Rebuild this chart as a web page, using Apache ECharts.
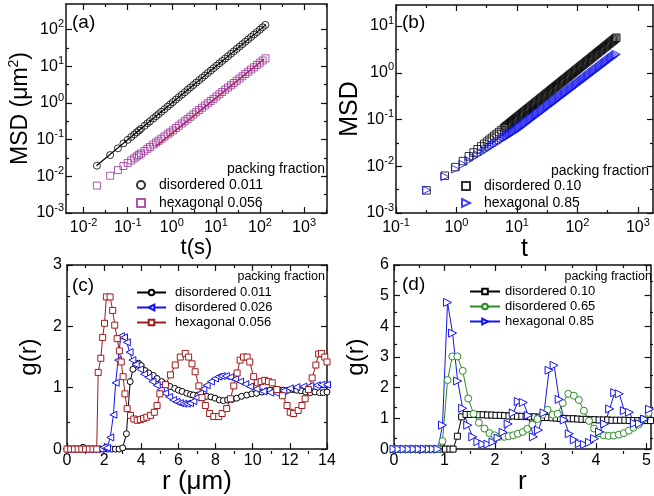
<!DOCTYPE html>
<html><head><meta charset="utf-8">
<script src="https://cdn.jsdelivr.net/npm/echarts@6/dist/echarts.min.js"></script>
<style>html,body{margin:0;padding:0;background:#fff}#c{width:654px;height:496px}</style>
</head><body><div id="c"></div>
<script>
// ---------- DATA ----------
// (a) MSD vs t(s)
const aTime = [0.02,0.04,0.06,0.08,0.1,0.12,0.14,0.16,0.18,0.2,0.24,0.28,0.32,0.38,0.44,0.5,0.58,0.68,0.8,0.92,1.06,1.24,1.44,1.68,1.96,2.28,2.64,3.08,3.58,4.16,4.84,5.62,6.54,7.6,8.84,10.3,12,13.9,16.2,18.8,21.9,25.4,29.6,34.4,40,46.5,54,62.8,73,85,98.8,115,133];
const aDisMSD = [0.0195,0.038,0.058,0.079,0.099,0.118,0.138,0.159,0.178,0.198,0.238,0.279,0.318,0.379,0.437,0.498,0.578,0.676,0.797,0.918,1.06,1.24,1.44,1.68,1.96,2.29,2.65,3.09,3.6,4.18,4.86,5.65,6.58,7.64,8.9,10.4,12.1,14.0,16.3,18.9,22.0,25.6,29.8,34.6,40.3,46.8,54.4,63.2,73.5,85.6,99.5,116,135];
const aHexMSD = [0.0056,0.0104,0.0148,0.0191,0.0232,0.0271,0.031,0.0348,0.0385,0.0422,0.0493,0.0564,0.0633,0.0736,0.0834,0.0933,0.106,0.122,0.14,0.158,0.179,0.208,0.239,0.276,0.319,0.367,0.422,0.487,0.561,0.644,0.743,0.855,0.986,1.135,1.30,1.51,1.74,1.99,2.31,2.64,3.05,3.51,4.05,4.67,5.36,6.17,7.10,8.18,9.42,10.9,12.5,14.4,16.5];
const aFitDisT = [0.0195, 137];
const aFitDisMSD = [0.0195, 137];
const aFitHexT = [0.43, 125];
const aFitHexMSD = [0.065, 15.8];
// (b) MSD vs t
const bTime = [0.32,0.64,0.96,1.28,1.6,1.92,2.24,2.56,2.88,
  3.2,3.51,3.85,4.22,4.62,5.07,5.56,6.1,6.38,6.68,7.0,7.33,7.67,8.04,8.41,8.81,9.23,9.66,
  10.1,10.6,11.1,11.6,12.2,12.7,13.3,14.0,14.6,15.3,16.0,16.8,17.6,18.4,19.3,20.2,21.1,22.1,23.2,24.3,25.4,26.6,27.9,29.2,30.5,32.0,33.5,35.1,36.7,38.5,40.3,42.2,44.2,46.2,48.4,50.7,53.1,55.6,58.2,61.0,63.8,66.8,70.0,73.3,76.7,80.4,84.1,88.1,92.3,96.6,
  101,106,111,116,122,127,133,140,146,153,160,168,176,184,193,202,211,221,232,243,254,266,279,292,305,320,335,351,367,385,403,422,440];
const bDisMSD = [0.00305,0.00628,0.00959,0.0129,0.0163,0.0197,0.0231,0.0266,0.0301,
  0.0335,0.0369,0.0406,0.0447,0.0491,0.0541,0.0595,0.0656,0.0687,0.0721,0.0757,0.0794,0.0832,0.0874,0.0916,0.0961,0.1009,0.1058,
  0.1108,0.1165,0.1222,0.128,0.1348,0.1406,0.1475,0.1555,0.1625,0.1706,0.1787,0.188,0.1973,0.2066,0.2171,0.2277,0.2382,0.25,0.2629,0.2758,0.289,0.3032,0.3186,0.334,0.3495,0.3674,0.3853,0.4044,0.4239,0.4454,0.4671,0.49,0.514,0.538,0.565,0.593,0.622,0.653,0.684,0.719,0.753,0.79,0.83,0.87,0.913,0.958,1.004,1.054,1.107,1.16,
  1.215,1.277,1.341,1.404,1.479,1.542,1.619,1.707,1.783,1.873,1.962,2.063,2.167,2.269,2.384,2.501,2.616,2.745,2.888,3.03,3.17,3.33,3.50,3.67,3.84,4.04,4.23,4.45,4.66,4.90,5.13,5.39,5.63];
const bHexMSD = [0.0031,0.006,0.0087,0.011,0.0133,0.0154,0.0175,0.0195,0.0215,
  0.0234,0.0253,0.0273,0.0294,0.0317,0.0342,0.0369,0.0398,0.0413,0.0429,0.0446,0.0463,0.0481,0.0499,0.0519,0.0539,0.0559,0.0581,
  0.0606,0.0634,0.0663,0.0694,0.0726,0.076,0.0795,0.0832,0.0871,0.0911,0.0953,0.0998,0.1044,0.1092,0.1143,0.1196,0.1252,0.131,0.1371,0.1434,0.1501,0.157,0.1643,0.1719,0.1799,0.1883,0.197,0.2061,0.2157,0.2257,0.2362,0.2471,0.2586,0.2706,0.2832,0.2963,0.31,0.3244,0.3395,0.3552,0.3717,0.389,0.407,0.4259,0.4457,0.4664,0.488,0.5107,0.5344,0.5592,
  0.5851,0.6123,0.6407,0.6704,0.7015,0.7341,0.7682,0.8038,0.8411,0.8802,0.921,0.9638,1.0085,1.0553,1.1043,1.1555,1.2091,1.2653,1.324,1.3855,1.4498,1.517,1.5875,1.6611,1.7382,1.8189,1.9033,1.9916,2.0841,2.1808,2.282,2.388,2.49];
// (c) g(r) vs r (um)
const cR011 = [0,0.2,0.4,0.6,0.86,1.0,1.2,1.4,1.6,1.8,2.0,2.2,2.4,2.6,2.8,3.0,3.2,3.4,3.55,3.7,3.85,4.0,4.2,4.4,4.65,4.85,5.1,5.3,5.55,5.8,6.0,6.2,6.45,6.65,6.8,7.05,7.3,7.52,7.75,7.97,8.2,8.42,8.65,8.9,9.14,9.4,9.68,9.95,10.21,10.5,10.75,10.93,11.2,11.45,11.65,11.9,12.15,12.37,12.6,12.85,13.1,13.35,13.6,13.8,14.0];
const cG011 = [0,0,0,0,0.03,0,0,0,0,0,0,0,0,0,0,0.02,0.25,1.1,1.3,1.38,1.4,1.36,1.28,1.24,1.2,1.15,1.1,1.06,1.02,0.99,0.96,0.94,0.91,0.89,0.88,0.88,0.87,0.86,0.85,0.83,0.8,0.79,0.8,0.81,0.83,0.86,0.88,0.9,0.91,0.93,0.95,0.96,0.97,0.96,0.96,0.96,0.97,0.96,0.95,0.93,0.92,0.93,0.92,0.92,0.93];
const cR026 = [0,0.2,0.4,0.6,0.8,1.0,1.2,1.4,1.6,1.8,1.97,2.15,2.33,2.5,2.62,2.75,2.9,3.07,3.22,3.37,3.52,3.7,3.93,4.15,4.38,4.6,4.83,5.05,5.28,5.5,5.72,5.9,6.08,6.26,6.45,6.62,6.8,6.98,7.16,7.34,7.52,7.75,7.97,8.15,8.33,8.55,8.78,9.05,9.32,9.6,9.85,10.2,10.57,10.95,11.29,11.65,12.0,12.35,12.73,13.1,13.45,13.7,14.0];
const cG026 = [0,0,0,0,0,0,0,0,0,0,0.03,0.02,0.19,0.56,1.08,1.45,1.84,1.82,1.74,1.58,1.45,1.38,1.3,1.22,1.17,1.1,1.04,0.97,0.91,0.85,0.8,0.77,0.75,0.74,0.74,0.75,0.78,0.84,0.91,0.98,1.04,1.1,1.15,1.18,1.19,1.19,1.17,1.14,1.1,1.06,1.02,0.98,0.94,0.92,0.91,0.95,0.99,1.01,1.02,1.03,1.04,1.05,1.05];
const cR056 = [0,0.2,0.4,0.6,0.8,1.0,1.2,1.4,1.6,1.68,1.82,1.92,2.02,2.12,2.32,2.46,2.57,2.7,2.82,2.92,3.02,3.12,3.24,3.42,3.6,3.78,3.95,4.12,4.3,4.5,4.7,4.85,5.0,5.3,5.57,5.83,6.1,6.37,6.55,6.73,6.9,7.1,7.27,7.45,7.68,7.9,8.17,8.35,8.6,8.8,8.98,9.16,9.32,9.5,9.7,9.84,10.05,10.25,10.45,10.65,10.85,11.05,11.3,11.6,11.85,12.02,12.2,12.45,12.65,12.82,13.0,13.2,13.4,13.55,13.7,13.88,14.0];
const cG056 = [0,0,0,0,0,0,0,0,0,1.25,1.48,1.82,2.05,2.48,2.48,2.26,2.02,1.8,1.6,1.42,1.18,0.9,0.66,0.55,0.49,0.47,0.48,0.5,0.52,0.55,0.6,0.71,0.9,1.05,1.21,1.37,1.5,1.56,1.5,1.39,1.26,1.03,0.84,0.71,0.58,0.53,0.53,0.58,0.66,0.82,1.03,1.24,1.45,1.5,1.5,1.42,1.18,1.08,1.1,1.12,1.1,1.08,0.97,0.87,0.71,0.6,0.58,0.63,0.71,0.82,0.97,1.16,1.37,1.55,1.56,1.5,1.42];
// (d) g(r) vs r
const dR010 = [0,0.085,0.17,0.255,0.34,0.425,0.51,0.595,0.68,0.765,0.85,0.935,1.02,1.105,1.17,1.255,1.34,1.425,1.51,1.595,1.68,1.765,1.85,1.935,2.02,2.105,2.19,2.275,2.36,2.445,2.53,2.615,2.7,2.785,2.87,2.955,3.04,3.125,3.21,3.295,3.38,3.465,3.55,3.635,3.72,3.805,3.89,3.975,4.06,4.145,4.23,4.315,4.4,4.485,4.57,4.655,4.74,4.825,4.91,4.995,5.08];
const dG010 = [0,0,0,0,0,0,0,0,0,0,0,0,0,0,0,0.42,1.05,1.13,1.13,1.13,1.12,1.12,1.11,1.11,1.1,1.1,1.09,1.08,1.08,1.07,1.07,1.06,1.05,1.05,1.04,1.03,1.03,1.02,1.01,1.0,1.0,0.99,0.99,0.98,0.97,0.97,0.96,0.96,0.95,0.95,0.95,0.94,0.94,0.94,0.94,0.93,0.93,0.93,0.93,0.93,0.93];
const dR065 = [0,0.1,0.2,0.3,0.4,0.5,0.6,0.7,0.78,0.87,0.96,1.06,1.155,1.255,1.36,1.47,1.575,1.68,1.79,1.89,1.99,2.09,2.18,2.27,2.36,2.45,2.55,2.64,2.74,2.84,2.94,3.04,3.14,3.24,3.34,3.45,3.56,3.66,3.76,3.86,3.96,4.06,4.15,4.25,4.35,4.45,4.55,4.65,4.74,4.84,4.94,5.04,5.14];
const dG065 = [0,0,0,0,0,0,0,0,0,0,0.26,2.25,3.02,3.02,2.55,1.65,1.15,0.86,0.67,0.52,0.45,0.4,0.4,0.42,0.45,0.5,0.56,0.66,0.8,0.98,1.12,1.28,1.12,1.15,1.5,1.8,1.74,1.6,1.25,0.92,0.67,0.52,0.45,0.43,0.44,0.47,0.52,0.6,0.7,0.8,0.97,1.18,1.5];
const dR085 = [0,0.1,0.2,0.3,0.4,0.5,0.6,0.7,0.78,0.87,0.96,1.06,1.16,1.26,1.36,1.46,1.56,1.66,1.76,1.86,1.96,2.06,2.16,2.26,2.36,2.46,2.56,2.66,2.76,2.86,2.97,3.07,3.17,3.27,3.37,3.47,3.57,3.67,3.77,3.87,3.97,4.07,4.17,4.27,4.37,4.46,4.56,4.66,4.76,4.86,4.96,5.06];
const dG085 = [0,0,0,0,0,0,0,0,0,0,0.78,4.78,3.78,2.22,1.33,0.78,0.4,0.24,0.16,0.16,0.23,0.36,0.55,0.82,1.18,1.55,1.52,1.1,0.4,0.62,1.18,2.57,2.73,1.62,0.95,0.5,0.3,0.18,0.15,0.22,0.34,0.56,0.82,1.31,1.84,1.8,1.25,1.2,0.84,0.83,0.98,1.3];
// tick labels (decade exponents for log panels)
const aXTicks = [-2,-1,0,1,2,3];
const aYTicks = [-3,-2,-1,0,1,2];
const bXTicks = [-1,0,1,2,3];
const bYTicks = [-3,-2,-1,0,1];
const cXTicks = [0,2,4,6,8,10,12,14];
const cYTicks = [0,1,2,3];
const dXTicks = [0,1,2,3,4,5];
const dYTicks = [0,1,2,3,4,5,6];

// ---------- BUILD ----------
const FONT = '"Liberation Sans", Arial, Helvetica, sans-serif';
const lg = v => Math.log10(v);
const pairsLog = (xs, ys) => xs.map((x, i) => [lg(x), lg(ys[i])]);
const pairs = (xs, ys) => xs.map((x, i) => [x, ys[i]]);
const halfway = arr => arr.slice(0, -1).map((v, i) => (v + arr[i + 1]) / 2);

const supFmt = v => '{b|10}{s|' + Math.round(v) + '}';
const supRich = {
  b: {fontSize: 16, lineHeight: 22, fontFamily: FONT, color: '#000'},
  s: {fontSize: 11, lineHeight: 8, verticalAlign: 'top', fontFamily: FONT, color: '#000'}
};
const numFmt = v => String(Math.round(v * 10) / 10);

function nameStyle(fs) {
  return {color: '#000', fontFamily: FONT, fontSize: fs,
    rich: {m: {fontSize: fs, fontFamily: FONT, color: '#000', lineHeight: fs + 4},
           s: {fontSize: Math.round(fs * 0.62), fontFamily: FONT, color: '#000', lineHeight: 8, verticalAlign: 'top'}}};
}

const panels = [
  { rect: {left: 66, top: 4, width: 261, height: 209},
    x: {min: -2.4, max: 3.52, major: aXTicks, minor: [-1.5,-0.5,0.5,1.5,2.5,3.5], fmt: supFmt, rich: supRich, fs: 16, margin: 4,
        name: 't(s)', nameGap: 24, nameStyle: nameStyle(22)},
    y: {min: -3, max: 2.7, major: aYTicks, minor: halfway(aYTicks), fmt: supFmt, rich: supRich, fs: 16, margin: 2,
        name: '{m|MSD (μm}{s|2}{m|)}', nameGap: 30, nameStyle: nameStyle(23)} },
  { rect: {left: 396, top: 5, width: 257, height: 208},
    x: {min: -1, max: 3.25, major: bXTicks, minor: [-0.5,0.5,1.5,2.5], fmt: supFmt, rich: supRich, fs: 16, margin: 4,
        name: 't', nameGap: 19, nameStyle: nameStyle(25)},
    y: {min: -3, max: 1.45, major: bYTicks, minor: halfway(bYTicks), fmt: supFmt, rich: supRich, fs: 16, margin: 2,
        name: 'MSD', nameGap: 30, nameStyle: nameStyle(25)} },
  { rect: {left: 67, top: 265, width: 260, height: 189},
    x: {min: 0, max: 14, major: cXTicks, minor: halfway(cXTicks), fmt: numFmt, fs: 16, margin: 3,
        name: 'r (μm)', nameGap: 10, nameStyle: nameStyle(26)},
    y: {min: 0, max: 3, major: cYTicks, minor: halfway(cYTicks), fmt: numFmt, fs: 16, margin: 5,
        name: 'g(r)', nameGap: 26, nameStyle: nameStyle(24)} },
  { rect: {left: 394, top: 265, width: 259, height: 189},
    x: {min: 0, max: 5.08, major: dXTicks, minor: halfway(dXTicks), fmt: numFmt, fs: 16, margin: 3,
        name: 'r', nameGap: 10, nameStyle: nameStyle(26)},
    y: {min: 0, max: 6, major: dYTicks, minor: halfway(dYTicks), fmt: numFmt, fs: 16, margin: 5,
        name: 'g(r)', nameGap: 26, nameStyle: nameStyle(24)} }
];

function mkAxis(ax, gridIndex, position, mode) {
  const isMain = mode === 'main', isMinor = mode === 'minor';
  const o = {
    type: 'value', gridIndex, position, min: ax.min, max: ax.max,
    axisLine: {show: !isMinor, onZero: false, lineStyle: {color: '#111', width: 1.5}},
    axisTick: {show: true, inside: true, length: isMinor ? 3 : 6, customValues: isMinor ? ax.minor : ax.major,
               lineStyle: {color: '#111', width: 1.2}},
    axisLabel: {show: isMain, customValues: ax.major, formatter: ax.fmt, margin: ax.margin,
                color: '#000', fontSize: ax.fs, fontFamily: FONT, rich: ax.rich},
    splitLine: {show: false}, minorTick: {show: false}, minorSplitLine: {show: false}
  };
  if (isMain) { o.name = ax.name; o.nameLocation = 'middle'; o.nameGap = ax.nameGap; o.nameTextStyle = ax.nameStyle; }
  return o;
}

const grid = [], xAxis = [], yAxis = [];
panels.forEach((p, i) => {
  grid.push(Object.assign({}, p.rect));
  grid.push(Object.assign({}, p.rect));
  xAxis.push(mkAxis(p.x, 2*i, 'bottom', 'main'), mkAxis(p.x, 2*i, 'top', 'mirror'),
             mkAxis(p.x, 2*i+1, 'bottom', 'minor'), mkAxis(p.x, 2*i+1, 'top', 'minor'));
  yAxis.push(mkAxis(p.y, 2*i, 'left', 'main'), mkAxis(p.y, 2*i, 'right', 'mirror'),
             mkAxis(p.y, 2*i+1, 'left', 'minor'), mkAxis(p.y, 2*i+1, 'right', 'minor'));
});

const HOLLOW = 'rgba(255,255,255,0)';
function scatter(name, panel, data, symbol, color, size, rot) {
  return {type: 'scatter', name, xAxisIndex: 4*panel, yAxisIndex: 4*panel, data, symbol, symbolSize: size,
    symbolRotate: rot || 0, itemStyle: {color: HOLLOW, borderColor: color, borderWidth: 1}, silent: true, z: 3};
}
function fit(panel, data, color) {
  return {type: 'line', xAxisIndex: 4*panel, yAxisIndex: 4*panel, data, symbol: 'none', silent: true,
    lineStyle: {color, width: 1.2}, z: 2};
}
function lineSym(name, panel, data, symbol, color, size, rot) {
  return {type: 'line', name, xAxisIndex: 4*panel, yAxisIndex: 4*panel, data, symbol, symbolSize: size,
    symbolRotate: rot || 0, showAllSymbol: true, silent: true,
    lineStyle: {color, width: 1}, itemStyle: {color: '#fff', borderColor: color, borderWidth: 1}, z: 3};
}

const PURPLE = '#9a2e9a', DRED = '#a01c1c', BLUE = '#1414f0', GREEN = '#2a8c22';

const series = [
  fit(0, pairsLog(aFitDisT, aFitDisMSD), '#000'),
  fit(0, pairsLog(aFitHexT, aFitHexMSD), '#b00000'),
  scatter('a|disordered 0.011', 0, pairsLog(aTime, aDisMSD), 'circle', '#000', 7),
  scatter('a|hexagonal 0.056', 0, pairsLog(aTime, aHexMSD), 'rect', PURPLE, 7),
  scatter('b|disordered 0.10', 1, pairsLog(bTime, bDisMSD), 'rect', '#000', 7.5),
  scatter('b|hexagonal 0.85', 1, pairsLog(bTime, bHexMSD), 'triangle', BLUE, 8, -90),
  lineSym('c|disordered 0.011', 2, pairs(cR011, cG011), 'circle', '#000', 6),
  lineSym('c|disordered 0.026', 2, pairs(cR026, cG026), 'triangle', BLUE, 7, 90),
  lineSym('c|hexagonal 0.056', 2, pairs(cR056, cG056), 'rect', DRED, 6),
  lineSym('d|disordered 0.10', 3, pairs(dR010, dG010), 'rect', '#000', 6),
  lineSym('d|disordered 0.65', 3, pairs(dR065, dG065), 'circle', GREEN, 7),
  lineSym('d|hexagonal 0.85', 3, pairs(dR085, dG085), 'triangle', BLUE, 8, -90)
];

const legFmt = n => n.split('|')[1];
function legend(names, left, top, iw, ih, gap, fs, padL) {
  return {data: names, orient: 'vertical', left, top, itemWidth: iw, itemHeight: ih, itemGap: gap, padding: 0,
    selectedMode: false, formatter: legFmt,
    textStyle: {fontSize: fs, lineHeight: fs, color: '#000', fontFamily: FONT, padding: [0, 0, 0, padL || 0]}};
}
const RIGHT_TRI = 'path://M0,0L10,5L0,10Z';
const legends = [
  legend(['a|disordered 0.011', 'a|hexagonal 0.056'], 136, 178, 8, 8, 4, 14, 9),
  legend(['b|disordered 0.10', {name: 'b|hexagonal 0.85', icon: RIGHT_TRI}], 461, 179, 8, 8, 3, 14, 9),
  legend(['c|disordered 0.011', 'c|disordered 0.026', 'c|hexagonal 0.056'], 136, 286, 29, 7, 2, 13, 4),
  legend(['d|disordered 0.10', 'd|disordered 0.65', 'd|hexagonal 0.85'], 469, 285, 30, 7, 2, 13, 0)
];

function txt(text, x, y, fs, align) {
  return {type: 'text', x, y, silent: true, z: 10,
    style: {text, fill: '#000', fontSize: fs, fontFamily: FONT, align: align || 'left', verticalAlign: 'middle',
            textAlign: align || 'left', textVerticalAlign: 'middle'}};
}
const graphic = [
  txt('(a)', 72, 23, 19), txt('(b)', 402, 23, 19), txt('(c)', 72, 286, 19), txt('(d)', 402, 285, 19),
  txt('packing fraction', 325, 169, 14, 'right'),
  txt('packing fraction', 649, 171, 14, 'right'),
  txt('packing fraction', 325, 277, 12.5, 'right'),
  txt('packing fraction', 652, 277, 12.5, 'right')
];

const chart = echarts.init(document.getElementById('c'), null, {renderer: 'canvas'});
chart.setOption({
  animation: false, backgroundColor: '#fff',
  grid, xAxis, yAxis, series, legend: legends, graphic
});
</script></body></html>
